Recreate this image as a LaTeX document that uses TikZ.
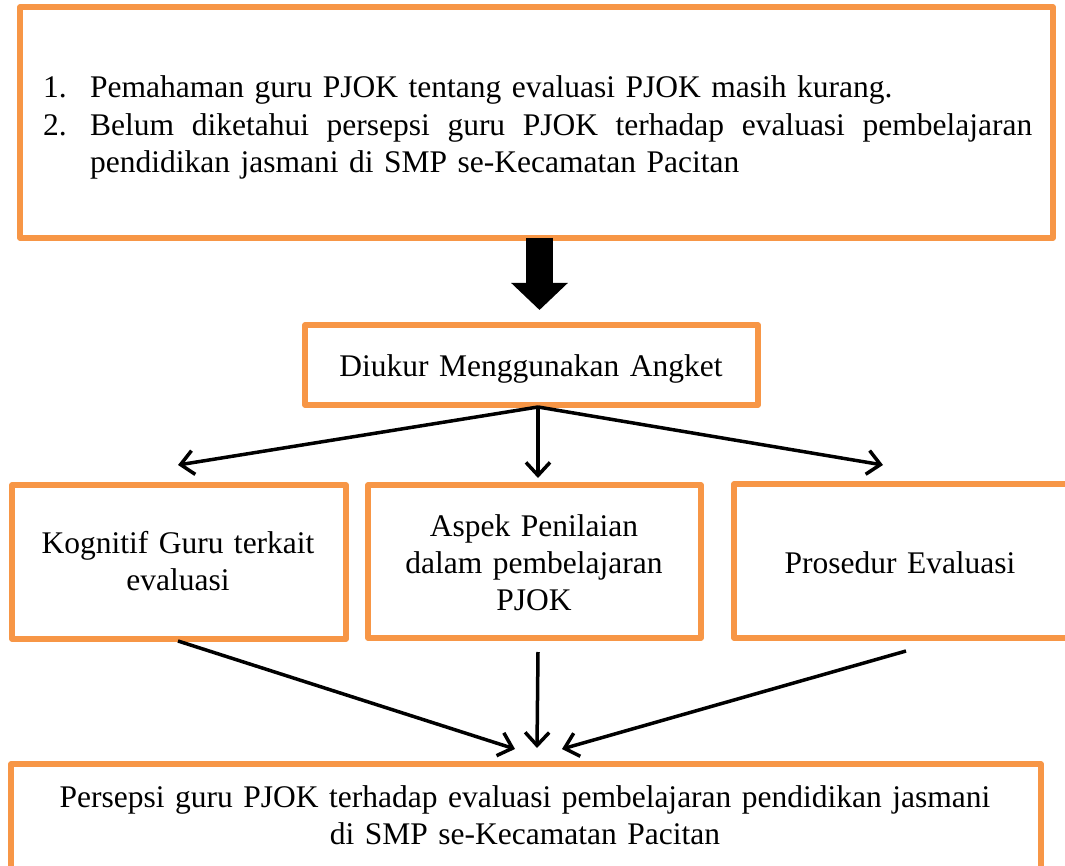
\documentclass[tikz,border=0pt]{standalone}
\usepackage{fontspec}
\setmainfont{Liberation Serif}
\usetikzlibrary{arrows.meta}
\definecolor{boxorange}{HTML}{F79646}
\begin{document}
\begin{tikzpicture}[x=1pt,y=-1pt,
  box/.style={draw=boxorange, line width=5.5pt, line join=round, inner sep=0pt},
  plain/.style={inner sep=0pt, font=\fontsize{31.5}{37.5}\selectfont},
  boxtext/.style={plain, anchor=base, text width=330pt, align=center, font=\fontsize{31.5}{37}\selectfont},
  conn/.style={line width=3.5pt, -{Straight Barb[length=13pt,width=24pt]}},
  bigarrow/.style={line width=27pt, -{Triangle[length=27pt,width=55pt]}}]
\useasboundingbox (0,0) rectangle (1065,866);

% top box
\node[box, minimum width=1033pt, minimum height=231pt] (problem) at (536.5,122.5) {};
\node[plain, anchor=base west, text width=989pt, align=left] (problist) at (43,97.7)
 {\makebox[47pt][l]{1.}Pemahaman guru PJOK tentang evaluasi PJOK masih kurang.\\
  \makebox[47pt][l]{2.}\hbox to 942pt{Belum\hfill diketahui\hfill persepsi\hfill guru\hfill PJOK\hfill terhadap\hfill evaluasi\hfill pembelajaran}\\
  \hspace*{47pt}pendidikan jasmani di SMP se-Kecamatan Pacitan};

% big arrow
\coordinate (bigA) at (539.5,238);
\coordinate (bigB) at (539.5,310);
\draw[bigarrow] (bigA) -- (bigB);

% measure box
\node[box, minimum width=453pt, minimum height=80pt] (measure) at (531.5,365) {};
\node[boxtext, text width=450pt] (measuretext) at (531,377) {Diukur Menggunakan Angket};

% three boxes
\node[box, minimum width=334pt, minimum height=154pt] (cog) at (179,562) {};
\node[boxtext] (cogtext) at (178,553) {Kognitif Guru terkait\\evaluasi};
\node[box, minimum width=333pt, minimum height=153pt] (aspect) at (534.5,561.5) {};
\node[boxtext] (aspecttext) at (534,536) {Aspek Penilaian\\dalam pembelajaran\\PJOK};
\node[box, minimum width=338pt, minimum height=154pt] (proc) at (903,561) {};
\node[boxtext] (proctext) at (900,573) {Prosedur Evaluasi};

% result box
\node[box, minimum width=1030pt, minimum height=136pt] (result) at (526,832) {};
\node[plain, anchor=base, text width=1000pt, align=center] (resulttext) at (525,807)
 {Persepsi guru PJOK terhadap evaluasi pembelajaran pendidikan jasmani\\di SMP se-Kecamatan Pacitan};

% fork arrows
\coordinate (fork) at (538,407);
\coordinate (tipL) at (178,465);
\coordinate (tipC) at (538,478);
\coordinate (tipR) at (883,465);
\draw[conn] (fork) -- (tipL);
\draw[conn] (fork) -- (tipC);
\draw[conn] (fork) -- (tipR);

% converging arrows
\coordinate (fromL) at (178,641);
\coordinate (fromC) at (538,652);
\coordinate (fromR) at (906,651);
\coordinate (endL) at (515,749);
\coordinate (endC) at (537,748);
\coordinate (endR) at (562,749);
\draw[conn] (fromL) -- (endL);
\draw[conn] (fromC) -- (endC);
\draw[conn] (fromR) -- (endR);
\end{tikzpicture}
\end{document}
